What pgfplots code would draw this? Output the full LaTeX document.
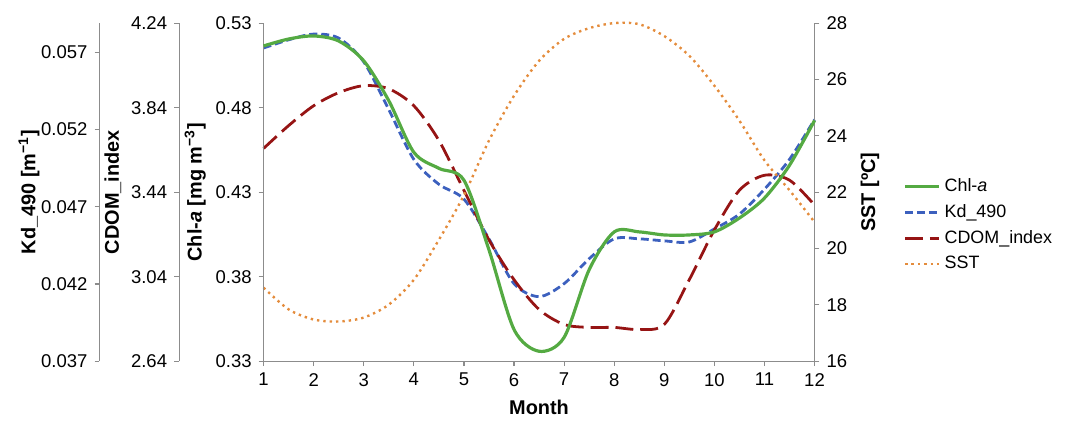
\documentclass[border=0pt]{standalone}
\usepackage{pgfplots}
\pgfplotsset{compat=1.18}
\usepackage{fontspec}
\setmainfont{Liberation Sans}
\definecolor{cgreen}{RGB}{84,170,66}
\definecolor{cblue}{RGB}{60,96,190}
\definecolor{cred}{RGB}{150,20,20}
\definecolor{corange}{RGB}{228,140,60}
\begin{document}
\begin{tikzpicture}
\pgfplotsset{
  base/.style={width=277pt,height=170pt,scale only axis,
    /pgf/number format/assume math mode=true,
    font=\fontsize{9.3}{11}\selectfont,
    axis line style={black!45},tick style={black!45,line width=0.6pt},
    tick align=outside, major tick length=2.5pt,
    xmin=1,xmax=12, clip=false, scaled y ticks=false,
    label style={font=\fontsize{10}{12}\selectfont\bfseries},
    /pgf/number format/fixed,/pgf/number format/precision=3},
  aux/.style={base,hide x axis,axis y line*=left,yticklabel style={/pgf/number format/fixed zerofill}}
}
% Kd axis
\begin{axis}[aux, xshift=-82.5pt, ymin=0.037, ymax=0.05888,
  ytick={0.037,0.042,0.047,0.052,0.057},
  yticklabel style={/pgf/number format/precision=3},
  ylabel={Kd\_490 [m\textsuperscript{−1}]}, ylabel shift=-6pt]
\addplot[cblue, line width=1.4pt, dash pattern=on 4pt off 2pt, smooth, tension=0.5, xshift=82.5pt] coordinates {
(1,0.05727)(1.5,0.05780)(2,0.05817)(2.5,0.05791)(3,0.05637)(3.5,0.05328)(4,0.05006)(4.5,0.04845)(5,0.04749)(5.5,0.04492)(6,0.04202)(6.5,0.04118)(7,0.04202)(7.5,0.04363)(8,0.04492)(8.5,0.04492)(9,0.04479)(9.5,0.04472)(10,0.04556)(10.5,0.04652)(11,0.04813)(11.5,0.05006)(12,0.05264)};
\end{axis}
% CDOM axis
\begin{axis}[aux, xshift=-42.5pt, ymin=2.64, ymax=4.24,
  ytick={2.64,3.04,3.44,3.84,4.24},
  yticklabel style={/pgf/number format/precision=2},
  ylabel={CDOM\_index}, ylabel shift=-2pt]
\addplot[cred, line width=1.4pt, dash pattern=on 9pt off 3.5pt, smooth, tension=0.5, xshift=42.5pt] coordinates {
(1,3.647)(1.5,3.755)(2,3.849)(2.5,3.911)(3,3.944)(3.5,3.929)(4,3.849)(4.5,3.685)(5,3.449)(5.5,3.214)(6,3.026)(6.5,2.885)(7,2.814)(7.5,2.80)(8,2.80)(8.5,2.79)(9,2.814)(9.5,3.026)(10,3.261)(10.5,3.449)(11,3.52)(11.5,3.497)(12,3.379)};
\end{axis}
% SST right axis
\begin{axis}[base, axis y line*=right, axis x line=none, ymin=16, ymax=28,
  ytick={16,18,...,28}, ylabel={SST [ºC]},
  legend style={at={(1.15,0.565)},anchor=north west,draw=none,fill=none,
    font=\fontsize{9}{12}\selectfont,row sep=1pt},
  legend cell align=left]
\addlegendimage{cgreen,line width=1.6pt}\addlegendentry{Chl-\textit{a}}
\addlegendimage{cblue,line width=1.4pt,dash pattern=on 4pt off 2pt}\addlegendentry{Kd\_490}
\addlegendimage{cred,line width=1.4pt,dash pattern=on 9pt off 3.5pt}\addlegendentry{CDOM\_index}
\addlegendimage{corange,line width=1.2pt,dotted}\addlegendentry{SST}
\addplot[corange, line width=1.2pt, dotted, smooth, tension=0.5] coordinates {
(1,18.61)(1.5,17.84)(2,17.48)(2.5,17.41)(3,17.55)(3.5,18.01)(4,18.89)(4.5,20.31)(5,21.89)(5.5,23.83)(6,25.42)(6.5,26.66)(7,27.44)(7.5,27.82)(8,28.0)(8.5,27.96)(9,27.54)(9.5,26.84)(10,25.78)(10.5,24.54)(11,23.13)(11.5,22.07)(12,20.94)};
\end{axis}
% Chl main axis
\begin{axis}[base, axis x line*=bottom, axis y line*=left, ymin=0.33, ymax=0.53,
  ytick={0.33,0.38,...,0.54}, xtick={1,...,12},
  yticklabel style={/pgf/number format/precision=2,/pgf/number format/fixed zerofill},
  xlabel={Month}, ylabel={Chl-\textit{a} [mg m\textsuperscript{−3}]}, ylabel shift=-2pt]
\addplot[cgreen, line width=1.6pt, smooth, tension=0.5] coordinates {
(1,0.5165)(1.5,0.5206)(2,0.5224)(2.5,0.5194)(3,0.5077)(3.5,0.4841)(4,0.4536)(4.5,0.4441)(5,0.4371)(5.5,0.3959)(6,0.3488)(6.5,0.3359)(7,0.3441)(7.5,0.3841)(8,0.4065)(8.5,0.4065)(9,0.4047)(9.5,0.4047)(10,0.4065)(10.5,0.4147)(11,0.4265)(11.5,0.4459)(12,0.4724)};
\end{axis}
\path ([yshift=5pt,xshift=2pt]current bounding box.north east);
\path ([xshift=-6pt]current bounding box.west);
\end{tikzpicture}
\end{document}
